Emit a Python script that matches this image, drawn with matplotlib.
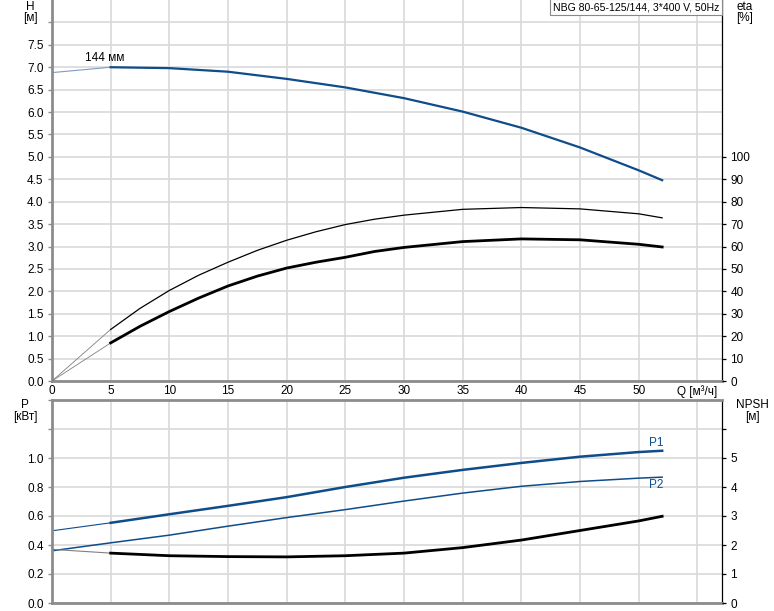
import matplotlib
matplotlib.use('Agg')
import matplotlib.pyplot as plt
import numpy as np

plt.rcParams['font.family'] = ['Liberation Sans', 'DejaVu Sans']
plt.rcParams['font.size'] = 8.5

# --- data ---
q_main = [5, 10, 15, 20, 25, 30, 35, 40, 45, 50, 52]
h_main = [7.00, 6.98, 6.90, 6.74, 6.55, 6.31, 6.01, 5.65, 5.21, 4.70, 4.48]
q_start = [0, 5]
h_start = [6.88, 7.00]

q_eta = [5, 7.5, 10, 12.5, 15, 17.5, 20, 22.5, 25, 27.5, 30, 35, 40, 45, 50, 52]
eta_pump = [23.0, 32.4, 40.4, 47.2, 53.0, 58.3, 62.8, 66.6, 69.8, 72.2, 74.0, 76.6, 77.4, 76.8, 74.6, 72.8]
eta_total = [17.0, 24.4, 31.0, 37.0, 42.4, 46.8, 50.4, 53.0, 55.2, 57.8, 59.6, 62.2, 63.4, 63.0, 61.0, 59.8]

p1_main = [0.553, 0.612, 0.670, 0.730, 0.800, 0.864, 0.918, 0.966, 1.009, 1.041, 1.050]
p1_start = [0.498, 0.553]
q_p2 = [0, 5, 10, 15, 20, 25, 30, 35, 40, 45, 50, 52]
p2 = [0.360, 0.415, 0.468, 0.530, 0.589, 0.644, 0.703, 0.758, 0.805, 0.838, 0.861, 0.868]
npsh_main = [1.72, 1.63, 1.60, 1.59, 1.63, 1.72, 1.91, 2.17, 2.50, 2.83, 2.99]
npsh_start = [1.85, 1.72]

x_ticks = [0, 5, 10, 15, 20, 25, 30, 35, 40, 45, 50, 55]
x_labels = ['0', '5', '10', '15', '20', '25', '30', '35', '40', '45', '50', 'Q [м³/ч]']
h_ticks = np.arange(0, 8.01, 0.5)
eta_ticks = np.arange(0, 101, 10)
p_ticks = np.arange(0, 1.41, 0.2)
npsh_ticks = np.arange(0, 7, 1)

blue = '#0f4c8a'
gridc = '#d9d9d9'
spinec = '#8c8c8c'

fig = plt.figure(figsize=(7.74, 6.11), dpi=100)
ax1 = fig.add_axes([52/774, 1-381/611, 670/774, 381/611])
ax2 = fig.add_axes([52/774, 1-603/611, 670/774, 203/611])

for ax in (ax1, ax2):
    ax.set_xlim(0, 57.1)
    ax.set_xticks(x_ticks)
    ax.grid(True, color=gridc, lw=1.2)
    ax.set_axisbelow(True)
    ax.spines['left'].set_color(spinec)
    ax.spines['left'].set_linewidth(2)
    ax.spines['bottom'].set_color(spinec)
    ax.spines['bottom'].set_linewidth(2)
    ax.spines['right'].set_color('black')
    ax.spines['right'].set_linewidth(0.9)
    ax.tick_params(axis='y', length=3, width=1, color=spinec, pad=3)
    ax.tick_params(axis='x', length=0, pad=3)

ax1.spines['top'].set_visible(False)
ax2.spines['top'].set_color(spinec)
ax2.spines['top'].set_linewidth(2)

# top panel: head and efficiency
ax1.set_ylim(0, 8.5)
ax1.set_yticks(h_ticks)
ax1.set_yticklabels([f'{v:.1f}' if v < 7.9 else '' for v in h_ticks])
ax1.set_xticklabels(x_labels)

ax1.plot(q_start, h_start, color='#7f9cc2', lw=0.8)
ax1.plot(q_main, h_main, color=blue, lw=1.6)
ax1.text(4.5, 7.07, '144 мм', ha='center', va='bottom', fontsize=8.5)

ax1e = ax1.twinx()
ax1e.set_ylim(0, 170)
ax1e.set_yticks(eta_ticks)
for s in ax1e.spines.values():
    s.set_visible(False)
ax1e.tick_params(axis='y', length=3, width=0.9, color='black', pad=3)
ax1e.plot([0, 5], [0, eta_pump[0]], color='#808080', lw=0.6)
ax1e.plot([0, 5], [0, eta_total[0]], color='#808080', lw=0.6)
ax1e.plot(q_eta, eta_pump, color='black', lw=0.9)
ax1e.plot(q_eta, eta_total, color='black', lw=2.0)

# bottom panel: power and NPSH
ax2.set_ylim(0, 1.4)
ax2.set_yticks(p_ticks)
ax2.set_yticklabels([f'{v:.1f}' if v < 1.1 else '' for v in p_ticks])
ax2.set_xticklabels([])

ax2.plot(q_start, p1_start, color=blue, lw=0.8)
ax2.plot(q_main, p1_main, color=blue, lw=1.8)
ax2.plot(q_p2, p2, color=blue, lw=1.1)
ax2.text(51.5, p1_main[-1] + 0.015, 'P1', color=blue, ha='center', va='bottom', fontsize=8.5)
ax2.text(51.5, p2[-1] - 0.015, 'P2', color=blue, ha='center', va='top', fontsize=8.5)

ax2n = ax2.twinx()
ax2n.set_ylim(0, 7)
ax2n.set_yticks(npsh_ticks)
ax2n.set_yticklabels([str(v) if v < 6 else '' for v in npsh_ticks])
for s in ax2n.spines.values():
    s.set_visible(False)
ax2n.tick_params(axis='y', length=3, width=0.9, color='black', pad=3)
ax2n.plot(q_start, npsh_start, color='#808080', lw=0.8)
ax2n.plot(q_main, npsh_main, color='black', lw=2.0)

# axis captions
fig.text(30/774, 1-1/611, 'H', ha='center', va='top')
fig.text(30/774, 1-12/611, '[м]', ha='center', va='top')
fig.text(745/774, 1-1/611, 'eta', ha='center', va='top')
fig.text(745/774, 1-12/611, '[%]', ha='center', va='top')
fig.text(25/774, 1-399/611, 'P', ha='center', va='top')
fig.text(25/774, 1-411/611, '[кВт]', ha='center', va='top')
fig.text(752/774, 1-399/611, 'NPSH', ha='center', va='top')
fig.text(752/774, 1-411/611, '[м]', ha='center', va='top')

# title box in top right corner
fig.text(719/774, 1-2/611, 'NBG 80-65-125/144, 3*400 V, 50Hz', ha='right', va='top',
         fontsize=7.6,
         bbox=dict(boxstyle='square,pad=0.25', fc='white', ec='#888888', lw=0.8))

fig.savefig('out.png', dpi=100)
